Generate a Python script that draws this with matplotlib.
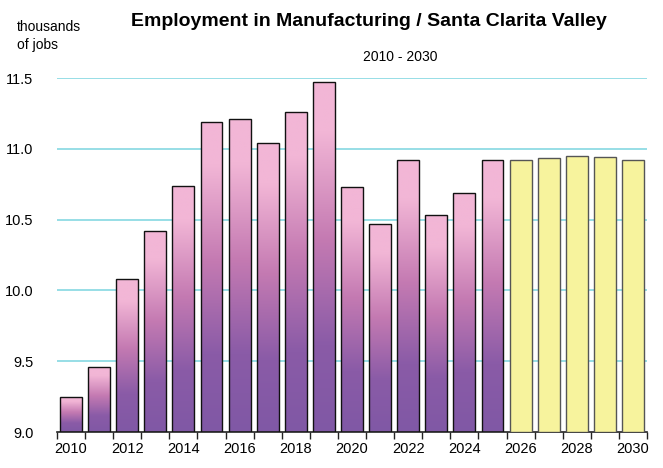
import numpy as np
import matplotlib
matplotlib.use('Agg')
import matplotlib.pyplot as plt
from matplotlib.colors import LinearSegmentedColormap

plt.rcParams['font.family'] = ['Liberation Sans Narrow', 'Liberation Sans', 'DejaVu Sans']

years = list(range(2010, 2031))
jobs = [9.25, 9.46, 10.08, 10.42, 10.74, 11.19, 11.21, 11.04, 11.26, 11.47,
        10.73, 10.47, 10.92, 10.53, 10.69, 10.92,
        10.92, 10.935, 10.95, 10.94, 10.92]
n_actual = 16  # 2010-2025 actual, rest forecast
yticks = [9.0, 9.5, 10.0, 10.5, 11.0, 11.5]

# pink at top -> purple at bottom
grad = LinearSegmentedColormap.from_list('pp', [
    (0.0, '#8058a5'), (0.25, '#8a5ba7'), (0.55, '#c47ab2'),
    (0.86, '#f2b6d6'), (1.0, '#f2b6d6')])

fig = plt.figure(figsize=(6.63, 4.68), dpi=100)
ax = fig.add_axes([57 / 663, 36 / 468, 590 / 663, 354 / 468])

ax.set_xlim(-0.5, len(years) - 0.5)
ax.set_ylim(9.0, 11.5)
for y in yticks[1:]:
    ax.axhline(y, color='#85d8e2', lw=1.2, zorder=0)

x = np.arange(len(years))
bars = ax.bar(x[:n_actual], [v - 9.0 for v in jobs[:n_actual]], bottom=9.0, width=0.78,
              facecolor='none', edgecolor='#111111', lw=1.0, zorder=3)
for b in bars:
    x0, y0 = b.get_x(), b.get_y()
    w, h = b.get_width(), b.get_height()
    img = np.linspace(0, 1, 256).reshape(-1, 1)
    im = ax.imshow(img, cmap=grad, origin='lower', aspect='auto',
                   extent=[x0, x0 + w, y0, y0 + h], zorder=2)
    im.set_clip_path(b)
ax.bar(x[n_actual:], [v - 9.0 for v in jobs[n_actual:]], bottom=9.0, width=0.78,
       color='#f7f39d', edgecolor='#555555', lw=1.0, zorder=3)
ax.set_xlim(-0.5, len(years) - 0.5)
ax.set_ylim(9.0, 11.5)

ax.set_xticks(np.arange(-0.5, len(years), 1.0))
ax.set_xticklabels([])
ax.set_xticks(x[::2], minor=True)
ax.set_xticklabels([str(y) for y in years[::2]], minor=True, fontsize=10.5)
ax.tick_params(axis='x', which='major', length=5, width=1, color='#222222', direction='out')
ax.tick_params(axis='x', which='minor', length=0, pad=7)

ax.set_yticks(yticks)
ax.set_yticklabels(['%.1f' % v for v in yticks], fontsize=10.5)
ax.tick_params(axis='y', length=0, pad=17)

for s in ['top', 'right', 'left']:
    ax.spines[s].set_visible(False)
ax.spines['bottom'].set_color('#222222')
ax.spines['bottom'].set_linewidth(1.2)

fig.text(369 / 663, 1 - 22 / 468, 'Employment in Manufacturing / Santa Clarita Valley',
         ha='center', va='center', fontsize=14, fontweight='bold')
fig.text(400 / 663, 1 - 57 / 468, '2010 - 2030', ha='center', va='center', fontsize=10)
fig.text(17 / 663, 1 - 36 / 468, 'thousands\nof jobs', ha='left', va='center',
         fontsize=10, linespacing=1.45)

fig.savefig('out.png', dpi=100)
